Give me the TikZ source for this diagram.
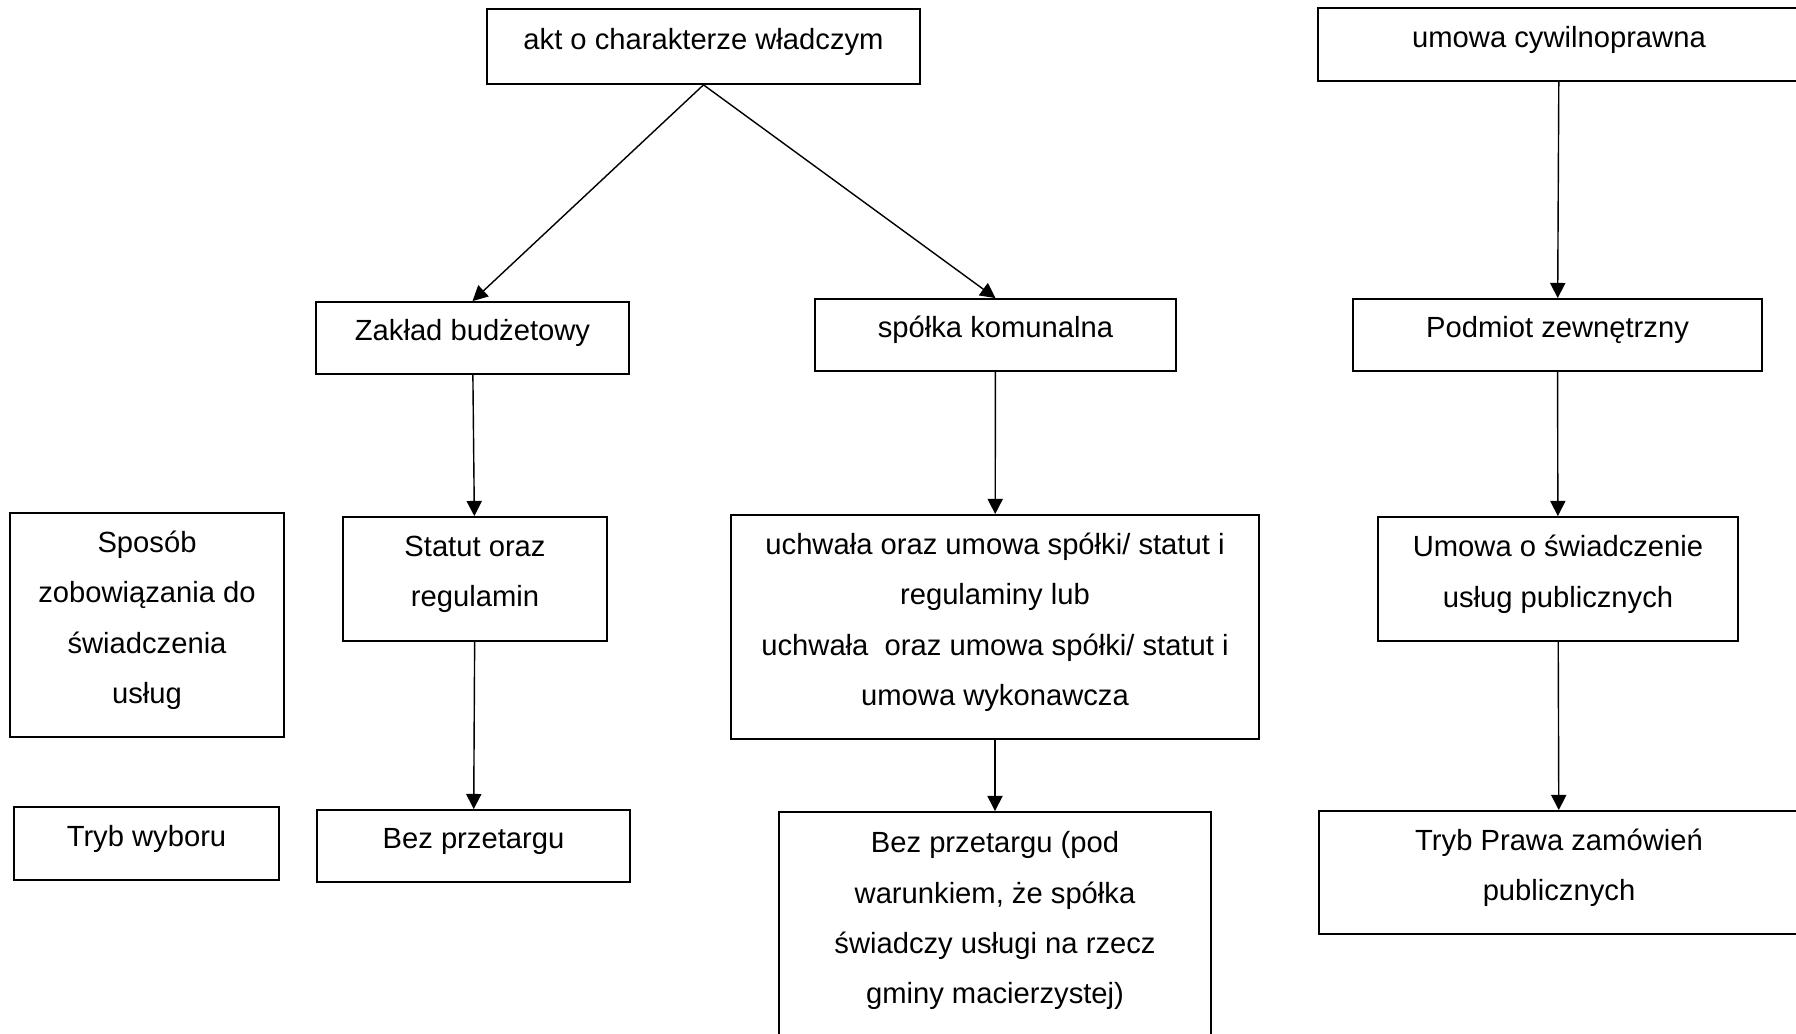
\documentclass[tikz,border=0pt]{standalone}
\usepackage{fontspec}
\setmainfont{Liberation Sans}
\usetikzlibrary{arrows.meta}

\begin{document}
\begin{tikzpicture}[
    x=0.01cm,
    y=-0.01cm,
    box/.style={draw, line width=.5pt, align=center, inner sep=0pt,
      font=\fontsize{8.3pt}{14.34pt}\selectfont,
      text depth=4.4pt},
    arr/.style={-{Triangle[length=4.3pt,width=4.3pt]}, line width=.4pt}
  ]
  \clip (0,0) rectangle (1796,1034);

  % top row
  \node[box, minimum width=4.33cm, minimum height=.75cm]
  (akt) at (703.5,46.5) {akt o charakterze władczym};
  \node[box, minimum width=4.82cm, minimum height=.73cm]
  (cywil) at (1559,44.5) {umowa cywilnoprawna};

  \node[box, minimum width=3.13cm, minimum height=.72cm]
  (zaklad) at (472.5,338) {Zakład budżetowy};
  \node[box, minimum width=3.61cm, minimum height=.72cm]
  (spolka) at (995.5,335) {spółka komunalna};
  \node[box, minimum width=4.09cm, minimum height=.72cm]
  (podmiot) at (1557.5,335) {Podmiot zewnętrzny};

  % sposob zobowiazania
  \node[box, minimum width=2.74cm, minimum height=2.24cm]
  (sposob) at (147,625) {Sposób\\zobowiązania do\\świadczenia\\usług};
  \node[box, minimum width=2.64cm, minimum height=1.24cm]
  (statut) at (475,579) {Statut oraz\\regulamin};
  \node[box, minimum width=5.28cm, minimum height=2.24cm]
  (uchwala) at (995,627)
  {uchwała oraz umowa spółki/ statut i\\regulaminy lub\\
    uchwała\ \ oraz umowa spółki/ statut i\\umowa wykonawcza};
  \node[box, minimum width=3.60cm, minimum height=1.24cm]
  (swiadcz) at (1558,579) {Umowa o świadczenie\\usług publicznych};

  % tryb wyboru
  \node[box, minimum width=2.65cm, minimum height=.73cm]
  (tryb) at (146.5,843.5) {Tryb wyboru};
  \node[box, minimum width=3.13cm, minimum height=.72cm]
  (bez) at (473.5,846) {Bez przetargu};
  \node[box, minimum width=4.32cm, minimum height=2.27cm]
  (bezpod) at (995,925.5)
  {Bez przetargu (pod\\warunkiem, że spółka\\świadczy usługi na rzecz\\gminy macierzystej)};
  \node[box, minimum width=4.80cm, minimum height=1.23cm]
  (pzp) at (1559,872.5) {Tryb Prawa zamówień\\publicznych};

  \draw[arr] (akt.south) -- (zaklad.north);
  \draw[arr] (akt.south) -- (spolka.north);
  \draw[arr] (cywil) -- (podmiot);
  \draw[arr] (zaklad) -- (statut);
  \draw[arr] (statut) -- (bez);
  \draw[arr] (spolka) -- (uchwala);
  \draw[arr] (uchwala) -- (bezpod);
  \draw[arr] (podmiot) -- (swiadcz);
  \draw[arr] (swiadcz) -- (pzp);
\end{tikzpicture}
\end{document}
